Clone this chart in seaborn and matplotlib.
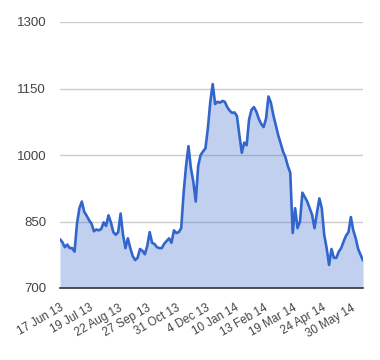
import matplotlib
matplotlib.use("Agg")
import matplotlib.pyplot as plt
import seaborn as sns
import numpy as np
import pandas as pd

# Sampled every 2 trading days, 17 Jun 2013 -> mid Jun 2014
values = [810, 803, 792, 798, 790, 790, 782, 845, 880, 895,
          872, 863, 853, 845, 828, 832, 830, 833, 848, 840,
          864, 848, 826, 820, 826, 868, 820, 790, 812, 790,
          772, 763, 768, 788, 784, 776, 795, 826, 802, 799,
          792, 790, 790, 800, 806, 812, 802, 830, 824, 826,
          835, 915, 975, 1020, 970, 940, 895, 975, 1000, 1008,
          1015, 1060, 1120, 1160, 1115, 1120, 1118, 1122, 1120, 1108,
          1100, 1095, 1096, 1088, 1045, 1005, 1028, 1022, 1080, 1102,
          1108, 1098, 1082, 1070, 1063, 1082, 1132, 1118, 1090, 1068,
          1045, 1027, 1008, 995, 975, 960, 824, 880, 835, 850,
          915, 905, 895, 880, 865, 835, 870, 902, 880, 820,
          790, 752, 788, 768, 768, 782, 790, 805, 818, 826,
          860, 830, 812, 788, 775, 762]
tick_labels = ["17 Jun 13", "19 Jul 13", "22 Aug 13", "27 Sep 13", "31 Oct 13",
               "4 Dec 13", "10 Jan 14", "13 Feb 14", "19 Mar 14", "24 Apr 14",
               "30 May 14"]
y_ticks = [700, 850, 1000, 1150, 1300]

df = pd.DataFrame({"idx": np.arange(len(values)), "value": values})

sns.set_style("white")
plt.rcParams['font.family'] = ['Liberation Sans', 'DejaVu Sans']

fig = plt.figure(figsize=(3.8, 3.6), dpi=100)
ax = fig.add_axes([60/380, 1-288/360, 303/380, 266/360])

color = "#3366cc"
ax.fill_between(df["idx"], 700, df["value"], color=color, alpha=0.3, linewidth=0)
sns.lineplot(data=df, x="idx", y="value", ax=ax, color=color, linewidth=1.9)

ax.set_xlim(0, len(values) - 1)
ax.set_ylim(700, 1300)
ax.set_yticks(y_ticks)
ax.set_yticklabels([str(v) for v in y_ticks], fontsize=9.5, color="#444444")
ax.set_xticks(np.arange(len(tick_labels)) * 12)
ax.set_xticklabels(tick_labels, rotation=30, ha="right", va="top",
                   rotation_mode="anchor", fontsize=8.4, color="#444444")
ax.tick_params(axis="both", length=0)
ax.tick_params(axis="y", pad=10)
ax.tick_params(axis="x", pad=10)
ax.set_xlabel("")
ax.set_ylabel("")

ax.yaxis.grid(True, color="#cccccc", linewidth=1)
ax.xaxis.grid(False)
ax.set_axisbelow(True)
for s in ["top", "right", "left"]:
    ax.spines[s].set_visible(False)
ax.spines["bottom"].set_color("#333333")
ax.spines["bottom"].set_linewidth(1.2)
ax.spines["bottom"].set_zorder(5)

fig.savefig("out.png", dpi=100)
